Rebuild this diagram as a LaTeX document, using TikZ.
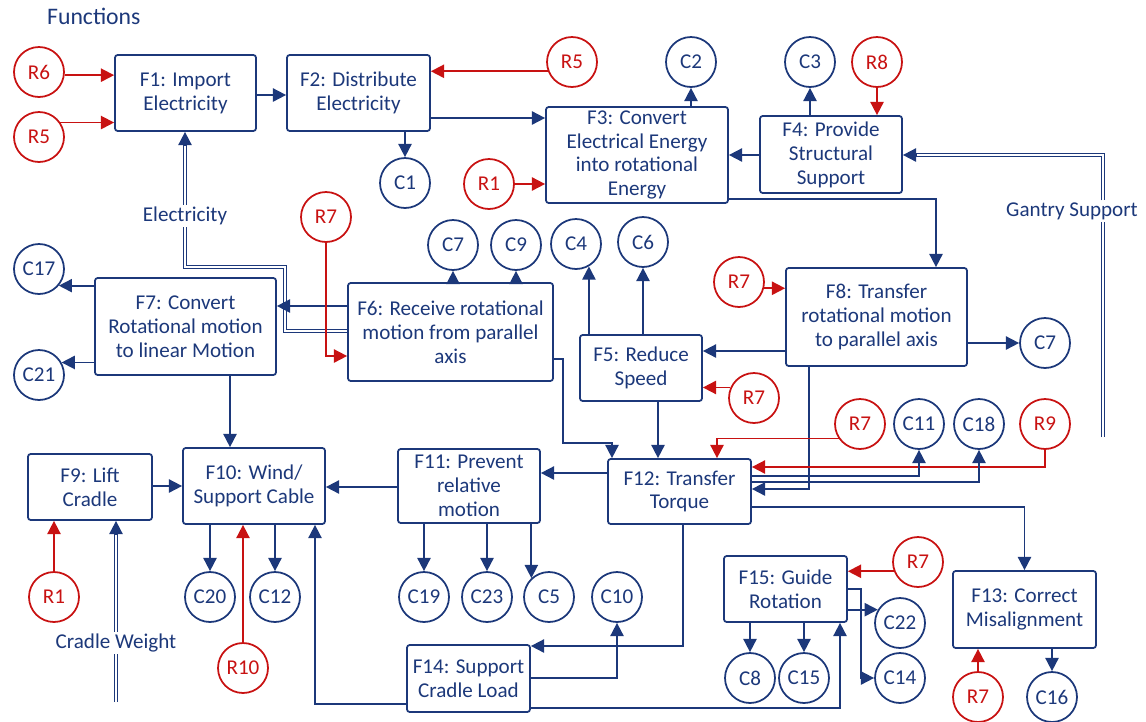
\documentclass[tikz,border=0pt]{standalone}
\usepackage{fontspec}
\setmainfont{Carlito}
\usepackage{tikz}
\usetikzlibrary{positioning, calc, arrows.meta}
\definecolor{fblue}{RGB}{28,56,122}
\definecolor{fred}{RGB}{200,18,18}
\tikzstyle{funcbox} = [draw=fblue, text=fblue, rectangle,
rounded corners=1.5pt, line width=1pt,
align=center, inner sep=0pt]
\tikzstyle{compcirc} = [draw=fblue, text=fblue, circle,
line width=1pt, minimum size=1cm, inner sep=0pt]
\tikzstyle{reqcirc} = [compcirc, draw=fred, text=fred]
\tikzstyle{flow} = [draw=fblue, line width=1pt,
-{Triangle[length=7.5pt, width=7.5pt]}]
\tikzstyle{reqflow} = [flow, draw=fred]
\tikzstyle{dflow} = [draw=fblue, double=white,
double distance=1.4pt, line width=0.6pt]
\tikzstyle{flowlabel} = [text=fblue, fill=white, inner sep=1pt]

\begin{document}
\begin{tikzpicture}[x=0.02cm, y=-0.02cm, font=\fontsize{12}{13.6}\selectfont]
	\useasboundingbox (0,0) rectangle (1146,721);
	\node[anchor=west, text=fblue, font=\fontsize{13.5}{15}\selectfont] (title) at (41,16) {Functions};
	%% Function boxes
	\node[funcbox, minimum width=2.82cm, minimum height=1.52cm] (f1) at (185.5,93) {F1: Import\\Electricity};
	\node[funcbox, minimum width=2.86cm, minimum height=1.52cm] (f2) at (358.5,93) {F2: Distribute\\Electricity};
	\node[funcbox, minimum width=3.64cm, minimum height=1.92cm] (f3) at (637,155) {F3: Convert\\Electrical Energy\\into rotational\\Energy};
	\node[funcbox, minimum width=2.84cm, minimum height=1.54cm] (f4) at (831,154.5) {F4: Provide\\Structural\\Support};
	\node[funcbox, minimum width=2.44cm, minimum height=1.32cm] (f5) at (641,368) {F5: Reduce\\Speed};
	\node[funcbox, minimum width=4.10cm, minimum height=1.96cm] (f6) at (450.5,332) {F6: Receive rotational\\motion from parallel\\axis};
	\node[funcbox, minimum width=3.62cm, minimum height=1.94cm] (f7) at (185.5,326.5) {F7: Convert\\Rotational motion\\to linear Motion};
	\node[funcbox, minimum width=3.62cm, minimum height=1.96cm] (f8) at (876.5,317) {F8: Transfer\\rotational motion\\to parallel axis};
	\node[funcbox, minimum width=2.48cm, minimum height=1.32cm] (f9) at (90,487) {F9: Lift\\Cradle};
	\node[funcbox, minimum width=2.84cm, minimum height=1.52cm] (f10) at (254,486) {F10: Wind/\\Support Cable};
	\node[funcbox, minimum width=2.84cm, minimum height=1.48cm] (f11) at (469,486) {F11: Prevent\\relative\\motion};
	\node[funcbox, minimum width=2.86cm, minimum height=1.30cm] (f12) at (679.5,491.5) {F12: Transfer\\Torque};
	\node[funcbox, minimum width=2.86cm, minimum height=1.54cm] (f13) at (1024.5,609.5) {F13: Correct\\Misalignment};
	\node[funcbox, minimum width=2.46cm, minimum height=1.34cm] (f14) at (468.5,678.5) {F14: Support\\Cradle Load};
	\node[funcbox, minimum width=2.46cm, minimum height=1.32cm] (f15) at (785.5,589) {F15: Guide\\Rotation};
	%% Requirements
	\node[reqcirc] (r6) at (39,72) {R6};
	\node[reqcirc] (r5a) at (39,137) {R5};
	\node[reqcirc] (r5b) at (572,62) {R5};
	\node[reqcirc] (r1a) at (489,184) {R1};
	\node[reqcirc] (r8) at (877,62) {R8};
	\node[reqcirc] (r7a) at (326,217) {R7};
	\node[reqcirc] (r7b) at (739,282) {R7};
	\node[reqcirc] (r7c) at (754,398) {R7};
	\node[reqcirc] (r7d) at (860,424) {R7};
	\node[reqcirc] (r9) at (1045,424) {R9};
	\node[reqcirc] (r1b) at (54,597) {R1};
	\node[reqcirc] (r10) at (243,668) {R10};
	\node[reqcirc] (r7e) at (918,562) {R7};
	\node[reqcirc] (r7f) at (978,697) {R7};
	%% Components
	\node[compcirc] (c1) at (405,183) {C1};
	\node[compcirc] (c2) at (691,62) {C2};
	\node[compcirc] (c3) at (810,62) {C3};
	\node[compcirc] (c7a) at (453,245) {C7};
	\node[compcirc] (c9) at (516,245) {C9};
	\node[compcirc] (c4) at (576,244) {C4};
	\node[compcirc] (c6) at (643,242) {C6};
	\node[compcirc] (c17) at (39,269) {C17};
	\node[compcirc] (c21) at (39,375) {C21};
	\node[compcirc] (c7b) at (1045,343) {C7};
	\node[compcirc] (c11) at (919,424) {C11};
	\node[compcirc] (c18) at (979,424) {C18};
	\node[compcirc] (c20) at (210,597) {C20};
	\node[compcirc] (c12) at (275,597) {C12};
	\node[compcirc] (c19) at (424,597) {C19};
	\node[compcirc] (c23) at (487,597) {C23};
	\node[compcirc] (c5) at (549,597) {C5};
	\node[compcirc] (c10) at (617,597) {C10};
	\node[compcirc] (c22) at (900,623) {C22};
	\node[compcirc] (c14) at (900,678) {C14};
	\node[compcirc] (c8) at (750,678) {C8};
	\node[compcirc] (c15) at (804,678) {C15};
	\node[compcirc] (c16) at (1052,697) {C16};
	%% Top row
	\draw[reqflow] (r6.-7) -- (f1.west |- r6.-7);
	\draw[reqflow] (r5a.34) -- (f1.west |- r5a.34);
	\draw[flow] (f1.east |- 0,95) -- (f2.west |- 0,95);
	\draw[reqflow] (r5b.201) -- (f2.east |- r5b.201);
	\draw[flow] (f2.south -| c1) -- (c1);
	\draw[flow] (f2.east |- 0,118) -- (f3.west |- 0,118);
	\draw[reqflow] (r1a) -- (f3.west |- r1a);
	\draw[flow] (f3.north -| c2) -- (c2);
	\draw[flow] (f4.north -| c3) -- (c3);
	\draw[reqflow] (r8) -- (f4.north -| r8);
	\draw[flow] (f4.west |- 0,155) -- (f3.east |- 0,155);
	\draw[flow] (f3.east |- 0,199) -| (f8.north -| 936,0);
	%% Gantry support
	\coordinate (gantryEnd) at (1103,437);
	\node[flowlabel] (gantryLabel) at (1072,211) {Gantry Support};
	\draw[dflow] (gantryEnd) -- (gantryLabel.south -| gantryEnd);
	\draw[dflow, shorten >=5pt] (gantryLabel.north -| gantryEnd) |- (f4.east |- 0,155);
	\draw[flow] ($(f4.east |- 0,155)+(14,0)$) -- (f4.east |- 0,155);
	%% Electricity
	\node[flowlabel] (elecLabel) at (185,216) {Electricity};
	\draw[dflow] (f6.west |- 0,331) -| (285,267) -| (elecLabel.south);
	\draw[dflow, shorten >=5pt] (elecLabel.north) -- (elecLabel.north |- f1.south);
	\draw[flow] ($(elecLabel.north |- f1.south)+(0,14)$) -- (elecLabel.north |- f1.south);
	%% Middle row
	\draw[reqflow] (r7b.-14) -- (f8.west |- r7b.-14);
	\draw[flow] (f8.east |- c7b) -- (c7b);
	\draw[flow] (f8.west |- 0,351) -- (f5.east |- 0,351);
	\draw[reqflow] (r7c.156) -- (f5.east |- r7c.156);
	\draw[flow] (f5.north -| c4.-60) -- (c4.-60);
	\draw[flow] (f5.north -| c6) -- (c6);
	\draw[flow] (f5.south -| 658,0) -- (f12.north -| 658,0);
	\draw[flow] (f6.north -| c7a) -- (c7a);
	\draw[flow] (f6.north -| c9) -- (c9);
	\draw[flow] (f6.east |- 0,359) -- (563,359) |- (612,443) -- (f12.north -| 612,0);
	\draw[flow] (f6.west |- 0,306) -- (f7.east |- 0,306);
	\draw[reqflow] (r7a) |- (f6.west |- 0,356);
	\draw[flow] (f7.west |- c17.-40) -- (c17.-40);
	\draw[flow] (f7.west |- c21.29) -- (c21.29);
	\draw[flow] (f7.south -| 230,0) -- (f10.north -| 230,0);
	%% Around F12
	\draw[flow] (f8.south -| 809,0) |- (f12.east |- 0,489);
	\draw[reqflow] (r7d.214) -| (f12.north -| 717,0);
	\draw[reqflow] (r9) |- (f12.east |- 0,467);
	\draw[flow] (f12.east |- 0,476) -| (c11);
	\draw[flow] (f12.east |- 0,482) -| (c18);
	\draw[flow] (f12.east |- 0,507) -| (f13);
	\draw[reqflow] (r7f) -- (f13.south -| r7f);
	\draw[flow] (f13.south -| c16) -- (c16);
	\draw[flow] (f12.west |- 0,473) -- (f11.east |- 0,473);
	%% Bottom row
	\draw[flow] (f11.south -| c19) -- (c19);
	\draw[flow] (f11.south -| c23) -- (c23);
	\draw[flow] (f11.south -| c5.133) -- (c5.133);
	\draw[flow] (f11.west |- 0,487) -- (f10.east |- 0,487);
	\draw[flow] (f9.east |- 0,486) -- (f10.west |- 0,486);
	\draw[reqflow] (r1b) -- (f9.south -| r1b);
	\draw[flow] (f10.south -| c20) -- (c20);
	\draw[flow] (f10.south -| c12) -- (c12);
	\draw[reqflow] (r10) -- (f10.south -| r10);
	%% Cradle weight
	\coordinate (cradleEnd) at (116,702);
	\node[flowlabel] (cradleLabel) at (116,643) {Cradle Weight};
	\draw[dflow] (cradleEnd) -- (cradleLabel.south);
	\draw[dflow, shorten >=5pt] (cradleLabel.north) -- (cradleLabel.north |- f9.south);
	\draw[flow] ($(cradleLabel.north |- f9.south)+(0,14)$) -- (cradleLabel.north |- f9.south);
	%% F14 and F15
	\draw[flow] (f12.south -| 683,0) |- (f14.east |- 0,646);
	\draw[flow] (f14.east |- 0,678) -| (c10);
	\draw[flow] (f14.west |- 0,704) -| (f10.south -| 315,0);
	\draw[flow] (f14.east |- 0,708) -| (f15.south -| 840,0);
	\draw[reqflow] (r7e.201) -- (f15.east |- r7e.201);
	\draw[flow] (f15.south -| c8) -- (c8);
	\draw[flow] (f15.south -| c15) -- (c15);
	\draw[flow] (f15.east |- c22.149) -- (c22.149);
	\draw[flow] (f15.east |- 0,589) -| (861,678) -- (c14);
\end{tikzpicture}
\end{document}
